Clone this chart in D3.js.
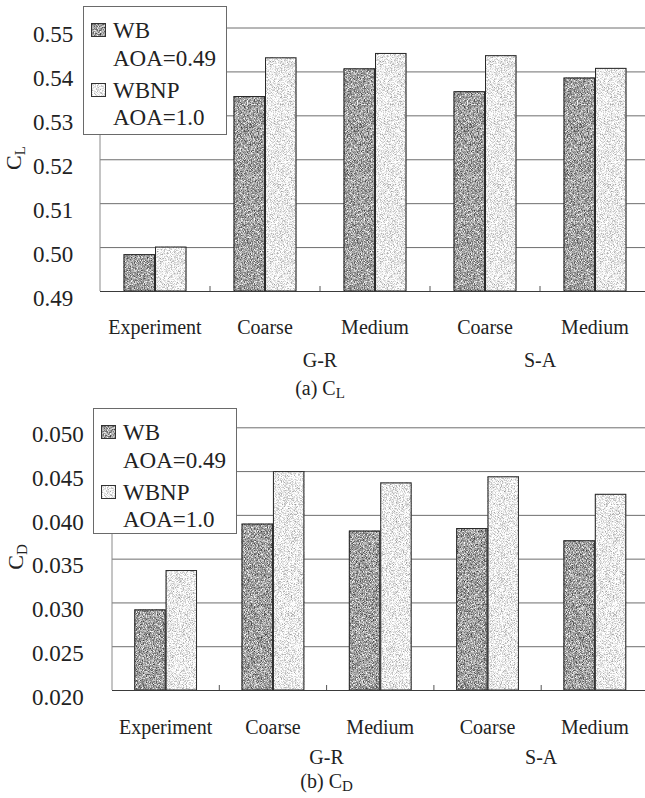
<!DOCTYPE html>
<html>
<head>
<meta charset="utf-8">
<script src="https://cdn.jsdelivr.net/npm/d3@7"></script>
<style>
  html, body { margin: 0; padding: 0; background: #fff; }
  svg { display: block; }
  text { font-family: "Liberation Serif", "Times New Roman", "DejaVu Serif", serif; fill: #222; }
</style>
</head>
<body>
<svg id="chart" width="645" height="798"></svg>
<script>
// Cases compared (computation grids vs. experiment)
const cases = ["Experiment", "G-R Coarse", "G-R Medium", "S-A Coarse", "S-A Medium"];
const caseLabels = ["Experiment", "Coarse", "Medium", "Coarse", "Medium"];
const groupLabels = ["G-R", "S-A"];
const groupCases = [["G-R Coarse", "G-R Medium"], ["S-A Coarse", "S-A Medium"]];

// Configurations
const series = ["WB", "WBNP"];
const seriesNotes = ["AOA=0.49", "AOA=1.0"];

// Lift coefficient
const clWB   = [0.4984, 0.5344, 0.5407, 0.5355, 0.5386];
const clWBNP = [0.5001, 0.5432, 0.5442, 0.5437, 0.5408];
const clTicks = [0.49, 0.50, 0.51, 0.52, 0.53, 0.54, 0.55];

// Drag coefficient
const cdWB   = [0.0292, 0.0390, 0.0382, 0.0385, 0.0371];
const cdWBNP = [0.0337, 0.0450, 0.0437, 0.0444, 0.0424];
const cdTicks = [0.020, 0.025, 0.030, 0.035, 0.040, 0.045, 0.050];

const SERIF = "'Liberation Serif', 'Times New Roman', 'DejaVu Serif', serif";
const svg = d3.select("#chart").style("font-family", SERIF);
const W = 645;

// grain textures for the two bar fills
const defs = svg.append("defs");
function grain(id, seed, amount, freq) {
  const f = defs.append("filter").attr("id", id)
    .attr("x", 0).attr("y", 0).attr("width", 1).attr("height", 1)
    .attr("color-interpolation-filters", "sRGB");
  f.append("feTurbulence").attr("type", "fractalNoise")
    .attr("baseFrequency", freq).attr("numOctaves", 1).attr("seed", seed).attr("result", "n");
  f.append("feColorMatrix").attr("in", "n").attr("type", "matrix")
    .attr("values", "1 0 0 0 0  1 0 0 0 0  1 0 0 0 0  0 0 0 0 1").attr("result", "g");
  f.append("feComposite").attr("in", "SourceGraphic").attr("in2", "g")
    .attr("operator", "arithmetic").attr("k1", 0).attr("k2", 1)
    .attr("k3", amount).attr("k4", -amount / 2).attr("result", "m");
  f.append("feComposite").attr("in", "m").attr("in2", "SourceGraphic").attr("operator", "in");
}
grain("grainDark", 3, 1.5, 1.3);
grain("grainLight", 9, 1.1, 1.3);

const fills = { WB: "#a2a2a2", WBNP: "#ececec" };
const grains = { WB: "url(#grainDark)", WBNP: "url(#grainLight)" };

const panels = [
  {
    values: { WB: clWB, WBNP: clWBNP }, domain: [0.49, 0.55], ticks: clTicks, fmt: ".2f",
    left: 100, right: 650, top: 27.5, bottom: 291, pad: 0.75,
    tickX: 33, labelY: 327, groupY: 360, caption: ["(a) C", "L"], captionY: 388,
    titleSub: "L", titleX: 13, titleY: 158,
    legend: { x: 83, y: 6, w: 143, h: 128 }
  },
  {
    values: { WB: cdWB, WBNP: cdWBNP }, domain: [0.020, 0.050], ticks: cdTicks, fmt: ".3f",
    left: 112, right: 648.5, top: 427.3, bottom: 690, pad: 0.71,
    tickX: 32, labelY: 727, groupY: 757, caption: ["(b) C", "D"], captionY: 781,
    titleSub: "D", titleX: 15, titleY: 557,
    legend: { x: 93, y: 408, w: 143, h: 125 }
  }
];

panels.forEach(p => {
  const g = svg.append("g");
  const x0 = d3.scaleBand().domain(cases).range([p.left, p.right]).padding(0);
  const x1 = d3.scaleBand().domain(series).range([0, x0.bandwidth()])
    .paddingInner(0).paddingOuter(p.pad);
  const y = d3.scaleLinear().domain(p.domain).range([p.bottom, p.top]);

  // horizontal grid
  g.append("g")
    .attr("transform", `translate(${p.left},0)`)
    .call(d3.axisLeft(y).tickValues(p.ticks).tickSize(-(W - p.left)).tickFormat(""))
    .call(a => a.select(".domain").remove())
    .call(a => a.selectAll("line").attr("stroke", "#6e6e6e").attr("stroke-width", 1));

  // left frame line
  g.append("line")
    .attr("x1", p.left).attr("x2", p.left)
    .attr("y1", y(p.domain[1])).attr("y2", y(p.domain[0]))
    .attr("stroke", "#8a8a8a").attr("stroke-width", 1);

  // tick labels
  g.append("g")
    .attr("transform", `translate(${p.left},0)`)
    .call(d3.axisLeft(y).tickValues(p.ticks).tickSize(0).tickFormat(d3.format(p.fmt)))
    .call(a => a.select(".domain").remove())
    .call(a => a.selectAll("text")
      .attr("x", p.tickX - p.left).attr("dy", "0.62em")
      .attr("text-anchor", "start")
      .style("font-size", "23px").attr("fill", "#222"));

  // bars
  const rows = cases.map((c, i) => ({ c, i }));
  const cg = g.append("g").selectAll("g").data(rows).join("g")
    .attr("transform", d => `translate(${x0(d.c)},0)`);
  cg.selectAll("rect.bar")
    .data(d => series.map(s => ({ s, v: p.values[s][d.i] })))
    .join("rect").attr("class", "bar")
    .attr("x", d => x1(d.s))
    .attr("width", x1.bandwidth())
    .attr("y", d => y(d.v))
    .attr("height", d => y(p.domain[0]) - y(d.v))
    .attr("fill", d => fills[d.s])
    .attr("filter", d => grains[d.s]);
  cg.selectAll("rect.outline")
    .data(d => series.map(s => ({ s, v: p.values[s][d.i] })))
    .join("rect").attr("class", "outline")
    .attr("x", d => x1(d.s) + 0.5)
    .attr("width", x1.bandwidth() - 1)
    .attr("y", d => y(d.v) + 0.5)
    .attr("height", d => y(p.domain[0]) - y(d.v) - 0.5)
    .attr("fill", "none").attr("stroke", "#2a2a2a").attr("stroke-width", 1);

  // baseline and separator ticks
  g.append("line")
    .attr("x1", p.left).attr("x2", W)
    .attr("y1", y(p.domain[0]) + 0.5).attr("y2", y(p.domain[0]) + 0.5)
    .attr("stroke", "#3a3a3a").attr("stroke-width", 1.2);
  g.append("g").selectAll("line").data(cases.slice(1)).join("line")
    .attr("x1", d => x0(d)).attr("x2", d => x0(d))
    .attr("y1", y(p.domain[0]) - 5).attr("y2", y(p.domain[0]))
    .attr("stroke", "#555").attr("stroke-width", 1);

  // category labels
  g.append("g").selectAll("text").data(rows).join("text")
    .attr("x", d => x0(d.c) + x0.bandwidth() / 2)
    .attr("y", p.labelY).attr("dy", "0.35em")
    .attr("text-anchor", "middle")
    .style("font-size", "20px")
    .text(d => caseLabels[d.i]);

  // group labels
  g.append("g").selectAll("text").data(groupLabels).join("text")
    .attr("x", (d, i) => {
      const [a, b] = groupCases[i];
      return (x0(a) + x0(b) + x0.bandwidth()) / 2;
    })
    .attr("y", p.groupY).attr("dy", "0.35em")
    .attr("text-anchor", "middle")
    .style("font-size", "20px")
    .text(d => d);

  // caption
  const cap = g.append("text")
    .attr("x", (x0(groupCases[0][0]) + x0(groupCases[0][1]) + x0.bandwidth()) / 2)
    .attr("y", p.captionY).attr("dy", "0.35em")
    .attr("text-anchor", "middle")
    .style("font-size", "20px");
  cap.append("tspan").text(p.caption[0]);
  cap.append("tspan").attr("dy", "3").style("font-size", "15px").text(p.caption[1]);

  // y-axis title
  const t = g.append("text")
    .attr("transform", `translate(${p.titleX},${p.titleY}) rotate(-90)`)
    .attr("text-anchor", "middle").attr("dy", "0.35em")
    .style("font-size", "22px");
  t.append("tspan").text("C");
  t.append("tspan").attr("dy", "4").style("font-size", "15px").text(p.titleSub);

  // legend
  const L = p.legend;
  const lg = g.append("g").attr("transform", `translate(${L.x},${L.y})`);
  lg.append("rect").attr("x", 0.5).attr("y", 0.5).attr("width", L.w).attr("height", L.h)
    .attr("fill", "#fff").attr("stroke", "#6a6a6a").attr("stroke-width", 1);
  const rowY = [[24, 52], [84, 111]];
  series.forEach((s, i) => {
    lg.append("rect").attr("x", 8.5).attr("y", rowY[i][0] - 6.5)
      .attr("width", 14).attr("height", 13)
      .attr("fill", fills[s]).attr("filter", grains[s]);
    lg.append("rect").attr("x", 8.5).attr("y", rowY[i][0] - 6.5)
      .attr("width", 14).attr("height", 13)
      .attr("fill", "none").attr("stroke", "#333").attr("stroke-width", 1);
    lg.append("text").attr("x", 30).attr("y", rowY[i][0]).attr("dy", "0.35em")
      .style("font-size", "23px").text(s);
    lg.append("text").attr("x", 30).attr("y", rowY[i][1]).attr("dy", "0.35em")
      .style("font-size", "23px").text(seriesNotes[i]);
  });
});

// one serif face throughout, including axis-generated labels
svg.selectAll("text").style("font-family", SERIF);
</script>
</body>
</html>
